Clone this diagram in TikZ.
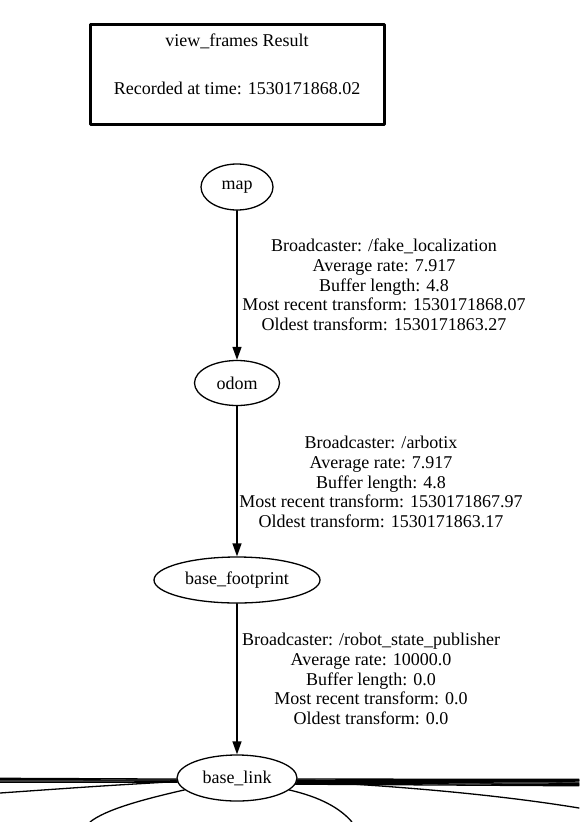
\documentclass[tikz,border=0pt]{standalone}
\usepackage{fontspec}
\setmainfont{Liberation Serif}
\usetikzlibrary{arrows.meta,shapes.geometric}

\begin{document}
\begin{tikzpicture}[x=1pt, y=-1pt, line cap=round, line join=round,
  font={\fontsize{18}{19.7}\selectfont},
  frame/.style={draw, ellipse, line width=1.3pt, inner sep=0pt},
  tf/.style={line width=1.3pt, -{Triangle[length=13pt,width=9pt]}},
  link/.style={line width=1.3pt},
  info/.style={align=center, inner sep=0pt}]
\useasboundingbox (0,0) rectangle (579,822);

% Header
\draw[line width=3pt] (90,24) rectangle (384,124);
\node (title) at (237,41) {view\_frames Result};
\node (stamp) at (237,88) {Recorded at time: 1530171868.02};

% Frames
\node[frame, minimum width=72pt, minimum height=46pt] (map) at (237,187) {map};
\node[frame, minimum width=85pt, minimum height=45pt] (odom) at (237,383) {odom};
\node[frame, minimum width=166pt, minimum height=46pt] (fp) at (237,580) {base\_footprint};
\node[frame, minimum width=120pt, minimum height=46pt] (bl) at (237,778) {base\_link};

% Transforms
\draw[tf] (map) -- (odom);
\draw[tf] (odom) -- (fp);
\draw[tf] (fp) -- (bl);

% Labels
\node[info] (l1) at (384,285) {Broadcaster: /fake\_localization\\Average rate: 7.917\\Buffer length: 4.8\\Most recent transform: 1530171868.07\\Oldest transform: 1530171863.27};
\node[info] (l2) at (381,482) {Broadcaster: /arbotix\\Average rate: 7.917\\Buffer length: 4.8\\Most recent transform: 1530171867.97\\Oldest transform: 1530171863.17};
\node[info] (l3) at (371,679) {Broadcaster: /robot\_state\_publisher\\Average rate: 10000.0\\Buffer length: 0.0\\Most recent transform: 0.0\\Oldest transform: 0.0};

% Children of base_link (cut off)
\foreach \i/\a in {1/181,2/182,3/183,4/184} {
  \coordinate (w\i) at (0,777+\i*1.3);
  \draw[link] (bl.\a) -- (w\i);
}
\foreach \i/\a in {1/359,2/358,3/357,4/356,5/355,6/354} {
  \coordinate (e\i) at (579,778+\i*1.3);
  \draw[link] (bl.\a) -- (e\i);
}
\coordinate (w0) at (0,793);
\coordinate (e0) at (579,808);
\coordinate (s1) at (90,822);
\coordinate (s2) at (352,822);
\draw[link] (bl) .. controls (100,786) .. (w0);
\draw[link] (bl) .. controls (400,786) and (500,795) .. (e0);
\draw[link] (bl) .. controls (140,800) and (105,810) .. (s1);
\draw[link] (bl) .. controls (320,797) and (340,808) .. (s2);

\end{tikzpicture}
\end{document}
